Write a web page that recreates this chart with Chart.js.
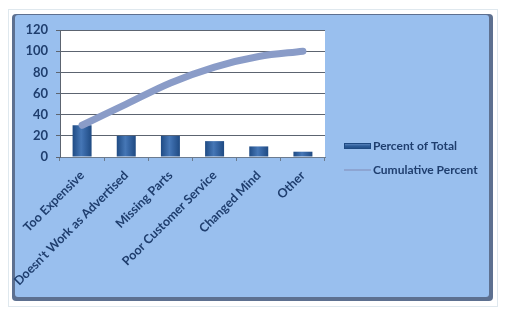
<!DOCTYPE html>
<html>
<head>
<meta charset="utf-8">
<script src="https://cdn.jsdelivr.net/npm/chart.js@4"></script>
<style>
  body { margin: 0; background: #fff; }
  #wrap { width: 513px; height: 321px; }
</style>
</head>
<body>
<div id="wrap"><canvas id="pareto" width="513" height="321"></canvas></div>
<script>
// categories (reasons for returns)
const reasons = ['Too Expensive', "Doesn't Work as Advertised", 'Missing Parts', 'Poor Customer Service', 'Changed Mind', 'Other'];

// percent of total per reason
const percentOfTotal = [30, 20, 20, 15, 10, 5];

// running total
const cumulativePercent = [30, 50, 70, 85, 95, 100];

// y axis ticks
const yTicks = [0, 20, 40, 60, 80, 100, 120];

const navy = '#1f3e6e';
const lineColor = '#8a9cc8';
const labelFont = "'Lato', 'Open Sans', sans-serif";

// blue-ish cylinder look for the bars
function barFill(ctx) {
  const chart = ctx.chart;
  if (!chart.chartArea || !chart.scales.x) return '#2d5d99';
  const x = chart.scales.x.getPixelForValue(ctx.dataIndex);
  if (!isFinite(x)) return '#2d5d99';
  const w = 19;
  const g = chart.ctx.createLinearGradient(x - w / 2, 0, x + w / 2, 0);
  g.addColorStop(0, '#1f4b84');
  g.addColorStop(0.45, '#4677b6');
  g.addColorStop(0.6, '#3a6aa9');
  g.addColorStop(1, '#1f4a82');
  return g;
}

// panel behind the chart, like the excel chart area
const panelPlugin = {
  id: 'panel',
  beforeDraw(chart) {
    const c = chart.ctx;
    c.save();
    // light outer frame
    c.strokeStyle = '#dfe8ee';
    c.lineWidth = 1;
    c.strokeRect(8.5, 9.5, 489, 297);
    // shadow / dark border
    c.fillStyle = '#5d7090';
    c.beginPath();
    c.roundRect(12, 14, 481, 287, 4);
    c.fill();
    c.fillStyle = '#99bfee';
    c.beginPath();
    c.roundRect(15, 15, 474, 282, 3);
    c.fill();
    // white plot area
    const a = chart.chartArea;
    c.fillStyle = '#ffffff';
    c.fillRect(a.left, a.top, a.right - a.left, a.bottom - a.top);
    c.restore();
  },
  afterDraw(chart) {
    // legend on the right
    const c = chart.ctx;
    c.save();
    const x0 = 344, y1 = 146, y2 = 170;
    const g = c.createLinearGradient(0, y1 - 3, 0, y1 + 3);
    g.addColorStop(0, '#6d95cc');
    g.addColorStop(0.5, '#2d5d99');
    g.addColorStop(1, '#1f4a82');
    c.fillStyle = g;
    c.fillRect(x0, y1 - 3, 27, 6);
    c.strokeStyle = '#1f4a82';
    c.lineWidth = 1;
    c.strokeRect(x0 + 0.5, y1 - 2.5, 26, 5);
    c.strokeStyle = lineColor;
    c.lineWidth = 1.5;
    c.beginPath();
    c.moveTo(x0, y2);
    c.lineTo(x0 + 27, y2);
    c.stroke();
    c.fillStyle = navy;
    c.font = 'bold 12px ' + labelFont;
    c.textBaseline = 'middle';
    c.fillText(chart.data.datasets[1].label, x0 + 29, y1);
    c.fillText(chart.data.datasets[0].label, x0 + 29, y2);
    c.restore();
  }
};

const ctx = document.getElementById('pareto');

const paretoChart = new Chart(ctx, {
  type: 'bar',
  data: {
    labels: reasons,
    datasets: [
      {
        type: 'line',
        label: 'Cumulative Percent',
        data: cumulativePercent,
        borderColor: lineColor,
        borderWidth: 7,
        pointRadius: 0,
        tension: 0.35,
        borderCapStyle: 'round',
        order: 0
      },
      {
        type: 'bar',
        label: 'Percent of Total',
        data: percentOfTotal,
        backgroundColor: barFill,
        borderColor: '#1f4a82',
        borderWidth: 0,
        barPercentage: 0.43,
        categoryPercentage: 1,
        order: 1
      }
    ]
  },
  options: {
    responsive: false,
    animation: false,
    layout: { padding: { left: 0, top: 30, right: 188, bottom: 0 } },
    plugins: {
      legend: { display: false },
      tooltip: { enabled: false }
    },
    scales: {
      x: {
        grid: { drawOnChartArea: false, drawTicks: true, tickLength: 4, offset: true, color: '#6b7b8f' },
        border: { color: '#6b7b8f' },
        ticks: {
          minRotation: 45, maxRotation: 45, autoSkip: false, padding: 7,
          color: navy, font: { family: labelFont, weight: 'bold', size: 12.5 }
        },
        afterFit(s) { s.height = 164; }
      },
      y: {
        min: 0, max: 120,
        afterBuildTicks(s) { s.ticks = yTicks.map(v => ({ value: v })); },
        grid: { color: '#5c6470', lineWidth: 1, drawTicks: true, tickLength: 4 },
        border: { color: '#5c6470' },
        ticks: {
          padding: 8, color: navy,
          font: { family: labelFont, weight: 'bold', size: 13 }
        },
        afterFit(s) { s.width = 60; }
      }
    }
  },
  plugins: [panelPlugin]
});
</script>
</body>
</html>
